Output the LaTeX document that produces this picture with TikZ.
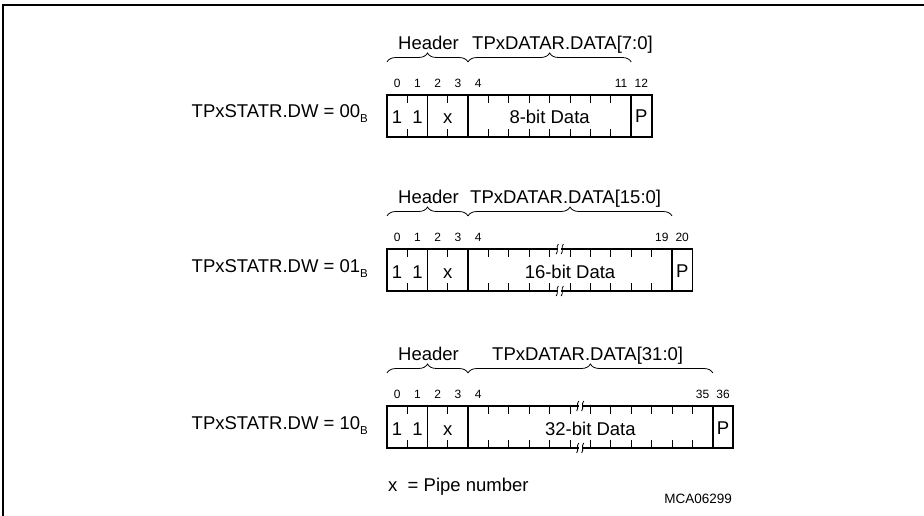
\documentclass[tikz,border=0pt]{standalone}
\usepackage{fontspec}
\setmainfont{Liberation Sans}
\usetikzlibrary{decorations.pathreplacing}
\tikzset{
  thickl/.style={line width=1.8pt},
  thinl/.style={line width=0.8pt},
  mainf/.style={font=\fontsize{18.5}{20}\selectfont, inner sep=0pt},
  smallf/.style={font=\fontsize{12}{14}\selectfont, inner sep=0pt},
  bracel/.style={thinl, decorate, decoration={brace, amplitude=9pt}},
  brk/.pic={
    \fill[white] (-1.6,-2.2) rectangle (1.6,2.2);
    \draw[thinl] (-3.6,5) .. controls (-1,2.5) and (-4.2,-2.5) .. (-1.4,-5);
    \draw[thinl] (1.4,5) .. controls (4,2.5) and (0.8,-2.5) .. (3.6,-5);
  }
}
% #1 id, #2 top, #3 data cells, #4 data label, #5 field label, #6 field label x (west), #7 last bit, #8 P bit, #9 DW value
\newcommand\myrow[9]{%
  \pgfmathsetmacro\de{468+20.4*#3}%
  \pgfmathsetmacro\pe{\de+20.4}%
  \pgfmathsetmacro\bt{#2+42}%
  \pgfmathtruncatemacro\nm{#3-1}%
  % header ticks
  \foreach \k in {1,3} {
    \draw[thinl] ({387+20.25*\k},#2) -- ++(0,8);
    \draw[thinl] ({387+20.25*\k},\bt) -- ++(0,-8);
  }
  \draw[thinl] (427.5,#2) -- (427.5,\bt);
  % data ticks
  \foreach \k in {1,...,\nm} {
    \draw[thinl] ({468+20.4*\k},#2) -- ++(0,8);
    \draw[thinl] ({468+20.4*\k},\bt) -- ++(0,-8);
  }
  % outline and thick dividers
  \draw[thickl] (387,#2) rectangle (\pe,\bt);
  \draw[thickl] (468,#2) -- (468,\bt);
  \draw[thickl] (\de,#2) -- (\de,\bt);
  \ifnum#3>8
    \pgfmathsetmacro\bx{468+20.4*(#3/2-0.5)}%
    \pic at (\bx,#2) {brk};
    \pic at (\bx,\bt) {brk};
  \fi
  % box texts
  \node[mainf, anchor=base] (#1one) at (397.1,#2+29) {1};
  \node[mainf, anchor=base] (#1two) at (417.4,#2+29) {1};
  \node[mainf, anchor=base] (#1x) at (447.7,#2+29) {x};
  \node[mainf, anchor=base] (#1data) at ({(468+\de)/2},#2+29) {#4};
  \node[mainf, anchor=base] (#1p) at ({(\de+\pe)/2},#2+28) {P};
  % bit numbers
  \node[smallf, anchor=base] (#1b0) at (397.1,#2-7.5) {0};
  \node[smallf, anchor=base] (#1b1) at (417.4,#2-7.5) {1};
  \node[smallf, anchor=base] (#1b2) at (437.6,#2-7.5) {2};
  \node[smallf, anchor=base] (#1b3) at (457.9,#2-7.5) {3};
  \node[smallf, anchor=base] (#1b4) at (478.2,#2-7.5) {4};
  \node[smallf, anchor=base] (#1bl) at ({\de-10.2},#2-7.5) {#7};
  \node[smallf, anchor=base] (#1bp) at ({\de+10.2},#2-7.5) {#8};
  % braces and labels
  \draw[bracel] (387,#2-33) -- (468,#2-33);
  \draw[bracel] (468,#2-33) -- (\de,#2-33);
  \node[mainf, anchor=base] (#1hdr) at (428.5,#2-45.5) {Header};
  \node[mainf, anchor=base west] (#1fld) at (#6,#2-45.5) {#5};
  % row label
  \node[mainf, anchor=base east] (#1dw) at (368,#2+23) {TPxSTATR.DW = #9\raisebox{-5pt}{\fontsize{11.5}{12}\selectfont B}};
}
\begin{document}
\begin{tikzpicture}[x=1pt,y=-1pt]
\useasboundingbox (0,0) rectangle (924,516);
\draw[thickl] (3.3,516) -- (3.3,5) -- (924,5);
\myrow{r1}{95}{8}{8-bit Data}{TPxDATAR.DATA[7:0]}{472}{11}{12}{00}
\myrow{r2}{249}{10}{16-bit Data}{TPxDATAR.DATA[15:0]}{470}{19}{20}{01}
\myrow{r3}{406}{12}{32-bit Data}{TPxDATAR.DATA[31:0]}{492}{35}{36}{10}
\node[mainf, anchor=base west] (legend) at (388,491) {x\ \ = Pipe number};
\node[font=\fontsize{13.5}{15}\selectfont, inner sep=0pt, anchor=base east] (fig) at (732,503) {MCA06299};
\end{tikzpicture}
\end{document}
